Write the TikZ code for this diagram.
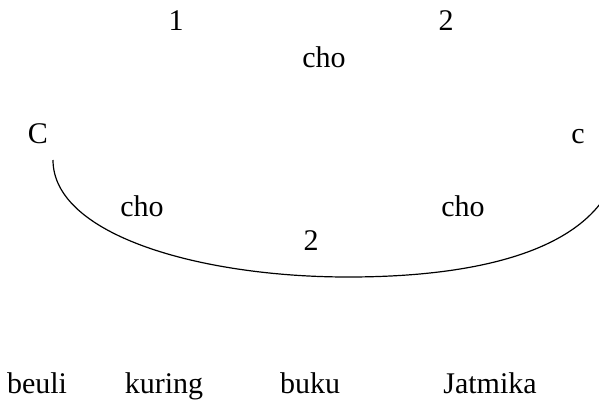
\documentclass[tikz,border=0pt]{standalone}
\usepackage{fontspec}
\setmainfont{Liberation Serif}
\begin{document}
\begin{tikzpicture}[x=1pt,y=-1pt,
  lbl/.style={inner sep=0pt,anchor=base,font=\fontsize{30}{34}\selectfont},
  arc/.style={draw=black,line width=1.2pt}]
\useasboundingbox (0,0) rectangle (599,405);
\clip (0,0) rectangle (599,405);
\node[lbl] (n1) at (176,30) {1};
\node[lbl] (n2) at (446,30) {2};
\node[lbl] (chotop) at (324,67) {cho};
\node[lbl] (bigC) at (38,143) {C};
\node[lbl] (smallc) at (578,143) {c};
\node[lbl] (chol) at (142,216) {cho};
\node[lbl] (chor) at (463,216) {cho};
\node[lbl] (mid2) at (311,250) {2};
\node[lbl] (beuli) at (37,393) {beuli};
\node[lbl] (kuring) at (164,393) {kuring};
\node[lbl] (buku) at (310,393) {buku};
\node[lbl] (jat) at (490,393) {Jatmika};
\coordinate (cs) at (53,160);
\coordinate (cb) at (348,277);
\coordinate (ce) at (608,192);
\draw[arc] (cs) .. controls (53,235) and (200,277) .. (cb) .. controls (480,277) and (575,250) .. (ce);
\end{tikzpicture}
\end{document}
